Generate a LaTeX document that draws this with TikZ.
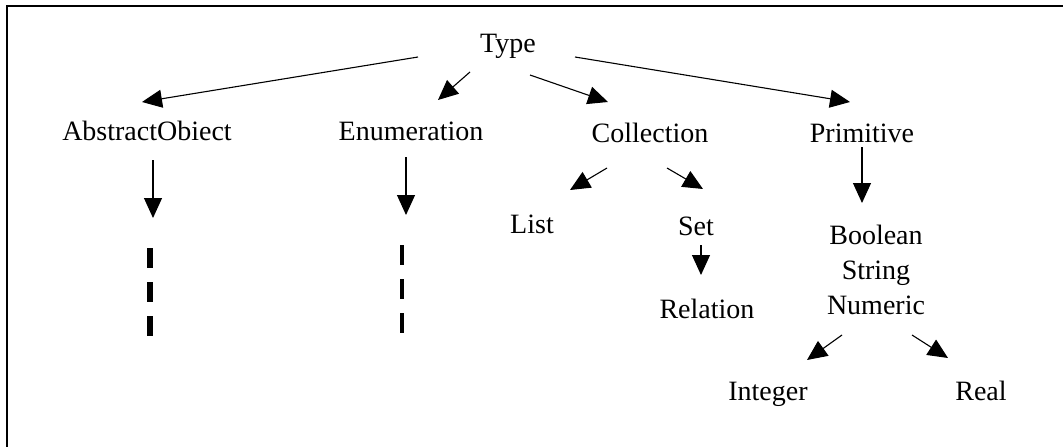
\documentclass[tikz,border=0pt]{standalone}
\usepackage{fontspec}
\setmainfont{Liberation Serif}
\usetikzlibrary{arrows.meta}
\begin{document}
\begin{tikzpicture}[x=1pt,y=-1pt,
  lbl/.style={anchor=base,inner sep=0pt,font=\fontsize{28}{35}\selectfont},
  link/.style={line width=1.1pt,-{Triangle[length=20pt,width=18pt]}},
  etc/.style={dash pattern=on 20pt off 14pt}]
\useasboundingbox (0,0) rectangle (1063,447);
\fill[white] (0,0) rectangle (1063,447);
% frame edges
\draw[line width=2.2pt] (7,447) -- (7,6) -- (1063,6);

% labels
\node[lbl] (type) at (508,52) {Type};
\node[lbl] (abs)  at (147,140) {AbstractObiect};
\node[lbl] (enum) at (411,140) {Enumeration};
\node[lbl] (coll) at (650,142) {Collection};
\node[lbl] (prim) at (862,142) {Primitive};
\node[lbl] (list) at (532,233) {List};
\node[lbl] (set)  at (696,235) {Set};
\node[lbl] (rel)  at (707,318) {Relation};
\node[lbl,align=center,anchor=north] (basic) at (876,225) {Boolean\\String\\Numeric};
\node[lbl] (int)  at (768,400) {Integer};
\node[lbl] (real) at (981,400) {Real};

% connector end points
\coordinate (t1) at (418,57);  \coordinate (a1) at (142,102);
\coordinate (t2) at (470,72);  \coordinate (e1) at (438,100);
\coordinate (t3) at (530,75);  \coordinate (c1) at (608,102);
\coordinate (t4) at (575,57);  \coordinate (p1) at (850,102);
\coordinate (a2) at (153,160); \coordinate (a3) at (153,218);
\coordinate (e2) at (406,157); \coordinate (e3) at (406,215);
\coordinate (c2) at (607,168); \coordinate (l1) at (570,190);
\coordinate (c3) at (667,168); \coordinate (s1) at (703,189);
\coordinate (p2) at (862,147); \coordinate (b1) at (862,203);
\coordinate (s2) at (701,245); \coordinate (r1) at (701,275);
\coordinate (n1) at (842,335); \coordinate (i1) at (807,360);
\coordinate (n2) at (912,335); \coordinate (re1) at (948,358);

\draw[link] (t1) -- (a1);
\draw[link] (t2) -- (e1);
\draw[link] (t3) -- (c1);
\draw[link] (t4) -- (p1);
\draw[link] (a2) -- (a3);
\draw[link] (e2) -- (e3);
\draw[link] (c2) -- (l1);
\draw[link] (c3) -- (s1);
\draw[link] (p2) -- (b1);
\draw[link] (s2) -- (r1);
\draw[link] (n1) -- (i1);
\draw[link] (n2) -- (re1);

% continuation marks below the open branches
\coordinate (ad1) at (150,248); \coordinate (ad2) at (150,336);
\coordinate (ed1) at (402,245); \coordinate (ed2) at (402,333);
\draw[etc,line width=6pt] (ad1) -- (ad2);
\draw[etc,line width=4pt] (ed1) -- (ed2);
\end{tikzpicture}
\end{document}
